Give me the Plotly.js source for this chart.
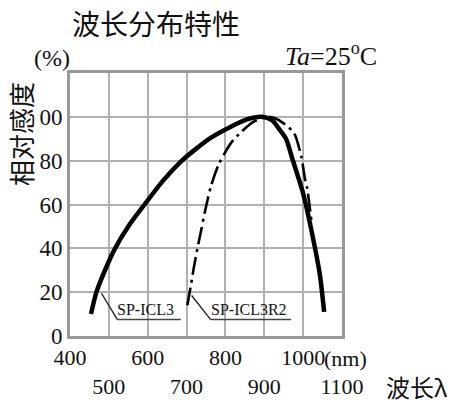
<!DOCTYPE html>
<html><head><meta charset="utf-8">
<script src="https://cdn.plot.ly/plotly-3.0.1.min.js"></script>
<style>html,body{margin:0;padding:0;background:#fff}</style>
</head><body>
<div id="chart" style="width:465px;height:400px"></div>
<script>
// Data
const solidName = 'SP-ICL3';
const solidX = [454,468,490,516,550,592,640,688,725,763,814,855,893,920,940,956,972,1000,1025,1043,1054];
const solidY = [10,20,30,40,50,60,71,80,85.5,90.5,95.5,98.8,100,98.5,94,90,81,65,45,28,11];
const dashName = 'SP-ICL3R2';
const dashX = [702,710,718,728,738,750,763,783,800,814,840,870,905,926,950,977,995,1005,1010,1021];
const dashY = [14,22,30.5,40,48.6,59,68.5,78.5,84,88,93,97.5,100,99.5,97,92.4,82,71.4,67.8,53];

const xTickVals = [400,500,600,700,800,900,1000,1100];
const xTickText = ['400','<br>500','600','<br>700','800','<br>900','1000','<br>1100'];
const yTickVals = [0,20,40,60,80,100];
const yTickText = ['0','20','40','60','80','00'];

// label leaders: start on curve, elbow, underline end
const labelNames = [solidName, dashName];
const leadStartX = [481, 713];
const leadStartY = [19.5, 18.5];
const leadElbowX = [522, 762];
const leadElbowY = [7.5, 7.5];
const underlineEndX = [685, 969];

const serif = 'Liberation Serif, Times New Roman, serif';
const cjk = 'Noto Sans CJK SC, sans-serif';

const traces = [
  {x: solidX, y: solidY, mode: 'lines', name: solidName,
   line: {color: '#000', width: 4.5, shape: 'spline', smoothing: 0.7}},
  {x: dashX, y: dashY, mode: 'lines', name: dashName,
   line: {color: '#000', width: 2.6, shape: 'spline', smoothing: 0.7, dash: '18px,5px,3px,5px'}}
];

const shapes = [];
const annotations = [];
for (let i = 0; i < labelNames.length; i++) {
  shapes.push({type: 'line', xref: 'x', yref: 'y', x0: leadStartX[i], y0: leadStartY[i], x1: leadElbowX[i], y1: leadElbowY[i], line: {color: '#222', width: 1.4}});
  shapes.push({type: 'line', xref: 'x', yref: 'y', x0: leadElbowX[i], y0: leadElbowY[i], x1: underlineEndX[i], y1: leadElbowY[i], line: {color: '#444', width: 1.6}});
  annotations.push({x: leadElbowX[i], y: leadElbowY[i], xref: 'x', yref: 'y', xanchor: 'left', yanchor: 'bottom',
    text: labelNames[i], showarrow: false, font: {family: serif, size: 16, color: '#111'}, xshift: -2, yshift: 0});
}
annotations.push({x: 1000, y: 0, xref: 'x', yref: 'paper', xanchor: 'left', yanchor: 'top', xshift: 19, yshift: -8,
  text: '(nm)', showarrow: false, font: {family: serif, size: 22, color: '#111'}});
annotations.push({x: 1, y: 0, xref: 'paper', yref: 'paper', xanchor: 'left', yanchor: 'top', xshift: 42, yshift: -31,
  text: '波长λ', showarrow: false, font: {family: cjk, size: 24, color: '#111'}});
annotations.push({x: 0, y: 1, xref: 'paper', yref: 'paper', xanchor: 'right', yanchor: 'bottom', xshift: 2, yshift: 0,
  text: '(%)', showarrow: false, font: {family: serif, size: 24, color: '#111'}});
annotations.push({x: 1, y: 1, xref: 'paper', yref: 'paper', xanchor: 'right', yanchor: 'bottom', xshift: 37, yshift: 0,
  text: '<i>Ta</i>=25<sup>o</sup>C', showarrow: false, font: {family: serif, size: 26, color: '#111'}});
annotations.push({x: -0.184, y: 0.768, xref: 'paper', yref: 'paper', xanchor: 'center', yanchor: 'middle', textangle: -90,
  text: '相对感度', showarrow: false, font: {family: cjk, size: 26, color: '#111'}});

const layout = {
  width: 465, height: 400,
  margin: {l: 70, r: 123, t: 73, b: 64},
  paper_bgcolor: '#fff', plot_bgcolor: '#fff',
  showlegend: false,
  title: {text: '波长分布特性', font: {family: cjk, size: 28, color: '#111'},
    xref: 'container', yref: 'container', x: 72/465, xanchor: 'left', y: 1 - 25/400, yanchor: 'middle'},
  xaxis: {range: [400, 1100], tickvals: xTickVals, ticktext: xTickText, ticks: '', tickangle: 0, showgrid: true,
    gridcolor: '#b0b0b0', gridwidth: 2, showline: true, mirror: true, linecolor: '#999', linewidth: 3,
    zeroline: false, tickfont: {family: serif, size: 22, color: '#111'}, fixedrange: true},
  yaxis: {range: [0, 120], tickvals: yTickVals, ticktext: yTickText, ticks: '', showgrid: true,
    gridcolor: '#b0b0b0', gridwidth: 2, showline: true, mirror: true, linecolor: '#999', linewidth: 3,
    zeroline: false, tickfont: {family: serif, size: 23, color: '#111'}, fixedrange: true},
  shapes: shapes, annotations: annotations
};
Plotly.newPlot('chart', traces, layout, {staticPlot: true});
</script>
</body></html>
